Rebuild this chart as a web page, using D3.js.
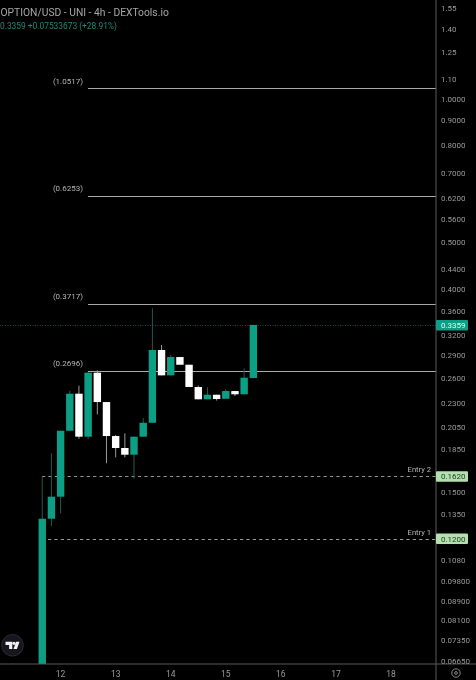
<!DOCTYPE html>
<html><head><meta charset="utf-8">
<script src="https://cdn.jsdelivr.net/npm/d3@7"></script>
<style>html,body{margin:0;padding:0;background:#000}svg{display:block}text{font-family:Roboto,sans-serif}</style>
</head><body><svg id="c" width="476" height="680"></svg>
<script>
const candleDays=[11.667,11.833,12,12.167,12.333,12.5,12.667,12.833,13,13.167,13.333,13.5,13.667,13.833,14,14.167,14.333,14.5,14.667,14.833,15,15.167,15.333,15.5];
const opens =[0.055,0.132,0.1468,0.2017,0.2411,0.196,0.2668,0.2316,0.1966,0.1856,0.1797,0.196,0.2096,0.2976,0.2634,0.2877,0.2772,0.249,0.2347,0.2399,0.2353,0.2442,0.2404,0.26];
const closes=[0.132,0.1468,0.2017,0.2411,0.196,0.2668,0.2316,0.1966,0.1856,0.1797,0.196,0.2096,0.2976,0.2634,0.2877,0.2772,0.249,0.2347,0.2399,0.235,0.2442,0.2404,0.2604,0.3359];
const highs =[0.162,0.181,0.2017,0.2446,0.2506,0.2676,0.2698,0.2316,0.1976,0.1992,0.196,0.2144,0.3638,0.3048,0.2905,0.2772,0.2772,0.2508,0.2486,0.2399,0.2466,0.2442,0.2725,0.3359];
const lows  =[0.055,0.1274,0.1355,0.2017,0.194,0.1936,0.2183,0.1724,0.1774,0.1774,0.1601,0.196,0.2096,0.2634,0.2634,0.2772,0.249,0.2347,0.2347,0.2333,0.2353,0.2384,0.2404,0.2597];
const priceTicks=[1.55,1.40,1.25,1.10,1.0,0.9,0.8,0.7,0.62,0.56,0.5,0.44,0.40,0.36,0.32,0.29,0.26,0.23,0.205,0.185,0.15,0.135,0.108,0.098,0.089,0.081,0.0735,0.0665];
const priceTickLabels=["1.55","1.40","1.25","1.10","1.0000","0.9000","0.8000","0.7000","0.6200","0.5600","0.5000","0.4400","0.4000","0.3600","0.3200","0.2900","0.2600","0.2300","0.2050","0.1850","0.1500","0.1350","0.1080","0.09800","0.08900","0.08100","0.07350","0.06650"];
const dayTicks=[12,13,14,15,16,17,18];
const fibLevels=[1.0517,0.6253,0.3717,0.2696];
const entryLevels=[0.162,0.12];
const entryNames=["Entry 2","Entry 1"];
const lastPrice=0.3359;

const UP="#0f9f85",DOWN="#ffffff",AX="#5a5a5a",TXT="#9a9a9a";
const svg=d3.select("#c");
svg.append("rect").attr("width",476).attr("height",680).attr("fill","#000");
const y=d3.scaleLog().domain([0.12,1]).range([538.5,98.5]);
const x=d3.scaleLinear().domain([12,18]).range([60.6,391]);
const candleW=7.4;
const axisX=436,axisY=664;
const crisp=v=>Math.round(v)+0.5;

const defs=svg.append("defs");
defs.append("clipPath").attr("id","plot").append("rect").attr("width",axisX).attr("height",axisY);
defs.append("clipPath").attr("id","pax").append("rect").attr("x",axisX).attr("width",40).attr("height",axisY);
const soft=defs.append("filter").attr("id","soft");soft.append("feGaussianBlur").attr("stdDeviation",0.3);

const root=svg.append("g").attr("filter","url(#soft)");
const plot=root.append("g").attr("clip-path","url(#plot)");

plot.append("line").attr("x1",0).attr("x2",axisX).attr("y1",crisp(y(lastPrice))).attr("y2",crisp(y(lastPrice)))
 .attr("stroke","#1d4a40").attr("stroke-dasharray","1 1.5");

plot.selectAll(".fib").data(fibLevels).join("line").attr("x1",88).attr("x2",axisX)
 .attr("y1",d=>crisp(y(d))).attr("y2",d=>crisp(y(d))).attr("stroke","#a8a8a8").attr("stroke-width",1);
plot.selectAll(".fibt").data(fibLevels).join("text").attr("x",83).attr("y",d=>y(d)-4.5).attr("text-anchor","end")
 .attr("font-size",8).attr("fill","#b5b5b5").text(d=>`(${d.toFixed(4)})`);

const entryStart=[42,48];
plot.selectAll(".en").data(entryLevels).join("line").attr("x1",(d,i)=>entryStart[i]).attr("x2",axisX)
 .attr("y1",d=>crisp(y(d))).attr("y2",d=>crisp(y(d))).attr("stroke","#a8a8a8").attr("stroke-width",0.9).attr("stroke-dasharray","3.2 3.2");
plot.selectAll(".ent").data(entryLevels).join("text").attr("x",431).attr("y",d=>y(d)-4).attr("text-anchor","end")
 .attr("font-size",7.6).attr("fill","#b5b5b5").text((d,i)=>entryNames[i]);

const idx=d3.range(candleDays.length);
const col=i=>closes[i]>=opens[i]?UP:DOWN;
plot.selectAll(".w").data(idx).join("line").attr("x1",i=>x(candleDays[i])).attr("x2",i=>x(candleDays[i]))
 .attr("y1",i=>y(highs[i])).attr("y2",i=>y(lows[i]))
 .attr("stroke",i=>closes[i]>=opens[i]?"#1f5c50":"#9a9a9a").attr("stroke-width",1);
plot.selectAll(".b").data(idx).join("rect").attr("x",i=>x(candleDays[i])-candleW/2).attr("width",candleW)
 .attr("y",i=>y(Math.max(opens[i],closes[i])))
 .attr("height",i=>Math.abs(y(opens[i])-y(closes[i])))
 .attr("fill",col);

root.append("line").attr("x1",axisX).attr("x2",axisX).attr("y1",0).attr("y2",680).attr("stroke",AX).attr("stroke-width",1);
root.append("line").attr("x1",0).attr("x2",476).attr("y1",axisY).attr("y2",axisY).attr("stroke",AX).attr("stroke-width",1);

root.append("g").attr("clip-path","url(#pax)").selectAll("text").data(priceTicks).join("text")
 .attr("x",441).attr("y",d=>y(d)+3).attr("font-size",8).attr("fill",TXT).text((d,i)=>priceTickLabels[i]);

root.selectAll(".day").data(dayTicks).join("text").attr("x",d=>x(d)).attr("y",676.5).attr("text-anchor","middle")
 .attr("font-size",8.5).attr("fill",TXT).text(d=>d);

const tag=(v,fill,color)=>{
 root.append("rect").attr("x",axisX).attr("y",y(v)-5).attr("width",32).attr("height",10.5).attr("rx",1).attr("fill",fill);
 root.append("text").attr("x",441).attr("y",y(v)+3.2).attr("font-size",8).attr("fill",color).text(v.toFixed(4));
};
tag(lastPrice,UP,"#e6f5f1");
entryLevels.forEach(v=>tag(v,"#b4dfae","#1c3a1c"));

root.append("text").attr("x",0.5).attr("y",15.5).attr("font-size",10.3).attr("fill","#a6a6a6").text("OPTION/USD - UNI - 4h - DEXTools.io");
root.append("text").attr("x",0).attr("y",29).attr("font-size",8.4).attr("fill","#1f8a74").text("0.3359  +0.07533673 (+28.91%)");

const logo=root.append("g").attr("transform","translate(12.5,645.3)");
logo.append("circle").attr("r",10.8).attr("fill","#16161f").attr("stroke","#2c2c3a");
logo.append("path").attr("d","M-7-3.6H-0.2V3.6H-3.4V-0.2H-7Z M1 3.6L3.6-3.6H7L4.4 3.6Z").attr("fill","#f2f2f2");
logo.append("circle").attr("cx",1.5).attr("cy",-2).attr("r",1.6).attr("fill","#f2f2f2");

const gear=root.append("g").attr("transform","translate(456,673)").attr("fill","none").attr("stroke","#8a8a8a");
gear.append("circle").attr("r",4.2).attr("stroke-width",1);
gear.append("circle").attr("r",1.4).attr("stroke-width",1);
</script></body></html>
